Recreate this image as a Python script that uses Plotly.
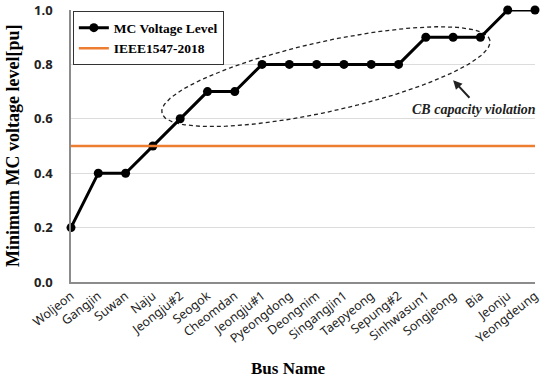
import numpy as np
import plotly.graph_objects as go

buses = ["Woljeon", "Gangjin", "Suwan", "Naju", "Jeongju#2", "Seogok", "Cheomdan",
         "Jeongju#1", "Pyeongdong", "Deongnim", "Singangjin1", "Taepyeong", "Sepung#2",
         "Sinhwasun1", "Songjeong", "Bia", "Jeonju", "Yeongdeung"]
mc_voltage = [0.2, 0.4, 0.4, 0.5, 0.6, 0.7, 0.7, 0.8, 0.8, 0.8, 0.8, 0.8, 0.8,
              0.9, 0.9, 0.9, 1.0, 1.0]
ieee_limit = 0.5
y_ticks = [0.0, 0.2, 0.4, 0.6, 0.8, 1.0]

idx = list(range(len(buses)))

# dashed ellipse annotation (center in data units, semi-axes in pixels, tilt angle)
ecx, ecy = 9.34, 0.755
ea_px, eb_px, eang = 168, 35, np.deg2rad(12.5)
px_per_x, px_per_y = 27.3, 272.0
t = np.linspace(0, 2 * np.pi, 200)
ex_px = ea_px * np.cos(t) * np.cos(eang) - eb_px * np.sin(t) * np.sin(eang)
ey_px = ea_px * np.cos(t) * np.sin(eang) + eb_px * np.sin(t) * np.cos(eang)
ell_x = ecx + ex_px / px_per_x
ell_y = ecy + ey_px / px_per_y

fig = go.Figure()
fig.add_trace(go.Scatter(x=ell_x, y=ell_y, mode="lines",
                         line=dict(color="#222", width=1.3, dash="4px,3px"),
                         showlegend=False, hoverinfo="skip"))
fig.add_trace(go.Scatter(x=idx, y=mc_voltage, mode="lines+markers", name="MC Voltage Level",
                         line=dict(color="black", width=3),
                         marker=dict(color="black", size=9), cliponaxis=False))
fig.add_trace(go.Scatter(x=[idx[0], idx[-1]], y=[ieee_limit, ieee_limit], mode="lines",
                         name="IEEE1547-2018", line=dict(color="#ED7D31", width=2.5)))

fig.add_annotation(x=14.75, y=0.635, text="<b><i>CB capacity violation</i></b>",
                   showarrow=False, font=dict(family="Liberation Serif", size=14, color="#222"),
                   xanchor="center", yanchor="middle")
fig.add_annotation(x=14.0, y=0.742, ax=14.65, ay=0.672, axref="x", ayref="y",
                   text="", showarrow=True, arrowhead=2, arrowsize=0.9, arrowwidth=2,
                   arrowcolor="#222")

# axis titles as annotations (positioned in paper units)
fig.add_annotation(xref="paper", yref="paper", x=-0.125, y=0.5, textangle=-90,
                   text="<b>Minimum MC voltage level[pu]</b>", showarrow=False,
                   xanchor="center", yanchor="middle",
                   font=dict(family="Liberation Serif", size=18, color="black"))
fig.add_annotation(xref="paper", yref="paper", x=0.468, y=-0.318,
                   text="<b>Bus Name</b>", showarrow=False,
                   xanchor="center", yanchor="middle",
                   font=dict(family="Liberation Serif", size=17, color="black"))

fig.update_layout(
    width=550, height=381,
    margin=dict(l=71, r=15, t=10, b=99),
    paper_bgcolor="white", plot_bgcolor="white",
    showlegend=True,
    legend=dict(x=0.004, y=0.995, xanchor="left", yanchor="top",
                bordercolor="#333", borderwidth=1, bgcolor="white",
                font=dict(family="Liberation Serif", size=13.5, color="black", weight="bold"),
                tracegroupgap=0, itemwidth=30),
    xaxis=dict(range=[0, len(buses) - 1], tickmode="array", tickvals=idx, ticktext=buses,
               tickangle=-38, showgrid=False, zeroline=False, automargin=False,
               showline=True, linecolor="#8c8c8c", linewidth=1.5,
               tickfont=dict(family="Noto Sans", size=12.5, color="#222")),
    yaxis=dict(range=[0, 1.0], tickmode="array", tickvals=y_ticks,
               ticktext=[f"{v:.1f}" for v in y_ticks], automargin=False,
               showgrid=True, gridcolor="#dcdcdc", gridwidth=1, zeroline=False,
               showline=True, linecolor="#8c8c8c", linewidth=1.5,
               ticklabelstandoff=14,
               tickfont=dict(family="Noto Sans", size=13, color="#222", weight="bold")),
)

fig.write_html("out.html", config={"displayModeBar": False},
               post_script="document.body.style.margin='0';")
